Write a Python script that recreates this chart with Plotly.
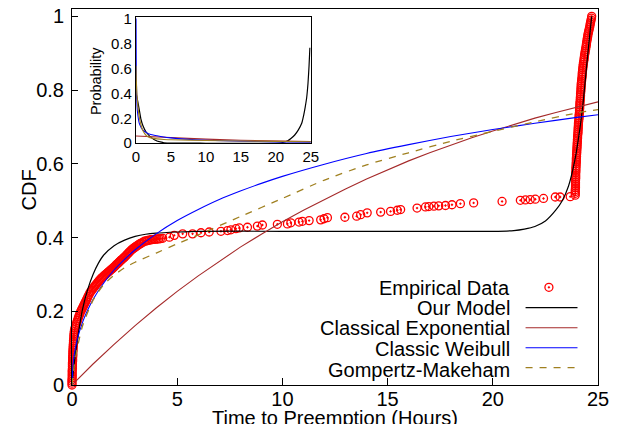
import plotly.graph_objects as go

# ---------------- data ----------------
# empirical CDF points (hours, CDF), in four stretches
emp_x_start = [0.00,0.00,0.00,0.00,0.01,0.01,0.01,0.01,0.01,0.02,0.02,0.02,0.02,0.03,0.03,0.03,0.04,0.04,0.04,0.05,0.05,0.06,0.06,0.07,0.07,0.08,0.09,0.09,0.10,0.11]
emp_y_start = [0.000,0.005,0.010,0.015,0.020,0.025,0.030,0.035,0.040,0.045,0.050,0.055,0.060,0.065,0.070,0.075,0.080,0.085,0.090,0.095,0.100,0.105,0.110,0.115,0.120,0.125,0.130,0.135,0.140,0.145]

emp_x_dense = [0.12,0.145,0.17,0.20,0.23,0.26,0.29,0.32,0.35,0.385,0.42,0.45,0.48,0.515,0.55,0.585,0.62,0.655,0.69,0.725,
               0.76,0.805,0.85,0.895,0.94,0.985,1.03,1.075,1.12,1.165,1.21,1.255,1.30,1.35,1.40,1.45,1.50,1.55,1.60,1.65,
               1.70,1.75,1.80,1.85,1.90,1.95,2.00,2.05,2.10,2.15,2.20,2.25,2.30,2.35,2.40,2.45,2.50,2.55,2.60,2.65,
               2.70,2.75,2.80,2.85,2.90,2.95,3.00,3.05,3.10,3.15,3.20,3.25,3.30,3.375,3.45,3.525,3.60,3.675,3.75,3.825,
               3.90,3.975,4.05,4.125,4.20]
emp_y_dense = [0.150,0.155,0.160,0.165,0.170,0.175,0.180,0.185,0.190,0.195,0.200,0.2035,0.207,0.211,0.215,0.219,0.223,0.227,0.231,0.2355,
               0.240,0.245,0.250,0.2535,0.257,0.2605,0.264,0.2675,0.271,0.274,0.277,0.2805,0.284,0.287,0.290,0.2925,0.295,0.2975,0.300,0.3025,
               0.305,0.3075,0.310,0.3125,0.315,0.3175,0.320,0.323,0.326,0.3285,0.331,0.334,0.337,0.3395,0.342,0.3445,0.347,0.350,0.353,0.356,
               0.359,0.362,0.365,0.3675,0.370,0.372,0.374,0.376,0.378,0.380,0.382,0.3835,0.385,0.3875,0.390,0.391,0.392,0.393,0.394,0.3945,
               0.395,0.3955,0.396,0.3965,0.397]

emp_x_mid = [4.31,4.63,4.86,5.26,5.73,6.13,6.52,7.08,7.39,7.55,7.79,7.95,8.34,8.81,9.05,9.76,10.24,10.40,10.79,10.95,11.27,11.82,11.98,12.14,
             12.97,13.53,13.72,14.03,14.67,15.14,15.46,15.62,16.40,16.80,16.96,17.20,17.43,17.75,18.06,18.46,19.09,20.44,21.31,21.55,21.78,22.02,
             22.41,22.97,23.20,23.68]
emp_y_mid = [0.398,0.401,0.406,0.410,0.410,0.413,0.415,0.417,0.419,0.421,0.424,0.426,0.428,0.431,0.434,0.436,0.437,0.440,0.442,0.444,0.446,0.448,0.451,0.454,
             0.455,0.458,0.462,0.467,0.469,0.471,0.474,0.476,0.480,0.483,0.484,0.485,0.486,0.487,0.489,0.492,0.494,0.498,0.501,0.502,0.503,0.504,
             0.506,0.510,0.510,0.511]

emp_x_jump = [23.92,23.92,23.92,23.92,23.93,23.93,23.93,23.93,
              23.93,23.94,23.94,23.94,23.94,23.95,23.95,23.95,
              23.96,23.96,23.97,23.97,23.97,23.98,23.98,23.99,
              23.99,24.00,24.00,24.01,24.01,24.02,24.02,24.03,24.03,24.04,
              24.05,24.05,24.06,24.06,24.07,24.07,24.08,24.09,
              24.10,24.10,24.11,24.12,24.12,24.13,24.13,24.14,24.14,24.15,
              24.16,24.16,24.17,24.17,24.18,24.19,24.19,24.20,24.20,24.21,
              24.22,24.23,24.24,24.25,24.25,24.26,24.27,24.28,
              24.29,24.30,24.31,24.33,24.34,24.35,24.36,24.38,
              24.39,24.41,24.42,24.44,24.45,24.46,24.48,24.49,24.51,24.52,
              24.54,24.56,24.58,24.60,24.62,24.63,24.65,24.67,24.69,24.70]
emp_y_jump = [0.515,0.52,0.525,0.53,0.535,0.54,0.545,0.55,
              0.555,0.56,0.565,0.57,0.575,0.58,0.585,0.59,
              0.595,0.60,0.605,0.61,0.615,0.62,0.625,0.63,
              0.635,0.64,0.645,0.65,0.655,0.66,0.665,0.67,0.675,0.68,
              0.685,0.69,0.695,0.70,0.705,0.71,0.715,0.72,
              0.725,0.73,0.735,0.74,0.745,0.75,0.755,0.76,0.765,0.77,
              0.775,0.78,0.785,0.79,0.795,0.80,0.805,0.81,0.815,0.82,
              0.825,0.83,0.835,0.84,0.845,0.85,0.855,0.86,
              0.865,0.87,0.875,0.88,0.885,0.89,0.895,0.90,
              0.905,0.91,0.915,0.92,0.925,0.93,0.935,0.94,0.945,0.95,
              0.955,0.96,0.965,0.97,0.975,0.98,0.985,0.99,0.995,1.0]

emp_x = emp_x_start + emp_x_dense + emp_x_mid + emp_x_jump
emp_y = emp_y_start + emp_y_dense + emp_y_mid + emp_y_jump

# fitted CDF curves
model_x = [0, 0.05, 0.1, 0.25, 0.5, 0.75, 1.0, 1.25, 1.5, 2.0, 2.5, 3.0, 3.5, 4.0, 5.0, 6.0, 10, 15, 20, 21, 21.5, 22, 22.5, 23, 23.3, 23.6, 23.9, 24.15, 24.3, 24.45, 24.58, 24.70]
model_y = [0, 0.03, 0.055, 0.12, 0.205, 0.26, 0.30, 0.33, 0.352, 0.378, 0.393, 0.403, 0.409, 0.412, 0.415, 0.417, 0.417, 0.417, 0.417, 0.419, 0.423, 0.430, 0.445, 0.475, 0.50, 0.54, 0.61, 0.70, 0.77, 0.86, 0.935, 1.0]

exp_x = list(range(0, 26))
exp_y = [0, 0.057, 0.110, 0.161, 0.209, 0.254, 0.296, 0.336, 0.374, 0.409, 0.443, 0.474, 0.504, 0.532, 0.559,
         0.584, 0.608, 0.630, 0.651, 0.671, 0.689, 0.707, 0.724, 0.739, 0.754, 0.768]

weib_x = [0, 0.05, 0.1, 0.25, 0.5, 0.75, 1, 1.5, 2, 2.5, 3, 4, 5, 6, 7, 8, 9, 10, 12, 14, 16, 18, 20, 22, 24, 25]
weib_y = [0, 0.057, 0.080, 0.124, 0.170, 0.204, 0.232, 0.276, 0.312, 0.341, 0.367, 0.410, 0.446, 0.476, 0.503, 0.526, 0.547, 0.566, 0.599, 0.628, 0.652, 0.674, 0.693, 0.710, 0.726, 0.733]

gm_x = [0, 0.1, 0.25, 0.5, 1, 1.5, 2, 2.5, 3, 4, 5, 6, 8, 10, 12, 14, 16, 18, 20, 22, 24, 25]
gm_y = [0, 0.05, 0.10, 0.16, 0.23, 0.272, 0.298, 0.318, 0.333, 0.358, 0.383, 0.407, 0.457, 0.506, 0.556, 0.597, 0.630, 0.661, 0.688, 0.714, 0.738, 0.747]

# inset: probability density curves
pm_x = [0, 0.1, 0.24, 0.5, 0.72, 1.0, 1.45, 2.2, 3.0, 3.4, 4.0, 10, 20, 21, 21.7, 22.2, 22.7, 23.2, 23.7, 24.0, 24.2, 24.4, 24.6, 24.75, 24.87]
pm_y = [0.40, 0.38, 0.34, 0.26, 0.19, 0.14, 0.09, 0.045, 0.018, 0.012, 0.004, 0.0, 0.0, 0.006, 0.02, 0.04, 0.066, 0.105, 0.16, 0.23, 0.29, 0.36, 0.48, 0.62, 0.765]

pe_x = [0, 5, 10, 15, 20, 25]
pe_y = [0.0585, 0.0437, 0.0326, 0.0243, 0.0182, 0.0136]

pw_x = [0.01, 0.03, 0.05, 0.1, 0.2, 0.5, 1, 1.5, 2, 3, 4, 5, 7, 10, 15, 20, 25]
pw_y = [1.0, 0.70, 0.56, 0.384, 0.262, 0.155, 0.105, 0.085, 0.072, 0.060, 0.050, 0.043, 0.033, 0.024, 0.016, 0.011, 0.008]

pg_x = [0, 0.05, 0.15, 0.3, 0.5, 0.75, 1, 1.5, 2, 3, 4, 5, 10, 15, 20, 25]
pg_y = [0.62, 0.50, 0.38, 0.28, 0.20, 0.14, 0.10, 0.06, 0.045, 0.035, 0.030, 0.028, 0.022, 0.018, 0.015, 0.012]

x_ticks = [0, 5, 10, 15, 20, 25]
y_ticks = [0, 0.2, 0.4, 0.6, 0.8, 1]
y_ticktext = ["0", "0.2", "0.4", "0.6", "0.8", "1"]

legend_names = ["Empirical Data", "Our Model", "Classical Exponential", "Classic Weibull", "Gompertz-Makeham"]

# ---------------- styling ----------------
FONT = "Liberation Sans, Arial, sans-serif"
C_EMP = "#ff0000"
C_MODEL = "#000000"
C_EXP = "#a52a2a"
C_WEIB = "#0000ff"
C_GM = "#a08020"
GM_DASH = "7px,7px"
EMP_MARKER = dict(symbol="circle-open-dot", size=8, color=C_EMP, line=dict(width=1.3, color=C_EMP))

fig = go.Figure()

fig.add_trace(go.Scatter(x=emp_x, y=emp_y, mode="markers", cliponaxis=False, marker=EMP_MARKER, showlegend=False))
fig.add_trace(go.Scatter(x=model_x, y=model_y, mode="lines", line=dict(color=C_MODEL, width=1.2, shape="spline", smoothing=0.6), showlegend=False))
fig.add_trace(go.Scatter(x=exp_x, y=exp_y, mode="lines", line=dict(color=C_EXP, width=1.1), showlegend=False))
fig.add_trace(go.Scatter(x=weib_x, y=weib_y, mode="lines", line=dict(color=C_WEIB, width=1.1, shape="spline", smoothing=0.6), showlegend=False))
fig.add_trace(go.Scatter(x=gm_x, y=gm_y, mode="lines", line=dict(color=C_GM, width=1.3, dash=GM_DASH, shape="spline", smoothing=0.6), showlegend=False))

# inset traces
fig.add_trace(go.Scatter(x=pm_x, y=pm_y, xaxis="x2", yaxis="y2", mode="lines", line=dict(color=C_MODEL, width=1.2, shape="spline", smoothing=0.5), showlegend=False))
fig.add_trace(go.Scatter(x=pe_x, y=pe_y, xaxis="x2", yaxis="y2", mode="lines", line=dict(color=C_EXP, width=1.1), showlegend=False))
fig.add_trace(go.Scatter(x=pw_x, y=pw_y, xaxis="x2", yaxis="y2", mode="lines", line=dict(color=C_WEIB, width=1.1, shape="spline", smoothing=0.5), showlegend=False))
fig.add_trace(go.Scatter(x=pg_x, y=pg_y, xaxis="x2", yaxis="y2", mode="lines", line=dict(color=C_GM, width=1.2, shape="spline", smoothing=0.5), showlegend=False))

# gnuplot-style key samples, drawn on an invisible overlay axis spanning the plot area (0..1)
key_x0, key_x1, key_xm = 0.8623, 0.961, 0.9067
key_rows = [0.2598, 0.2056, 0.1524, 0.0992, 0.046]
fig.add_trace(go.Scatter(x=[key_xm], y=[key_rows[0]], xaxis="x3", yaxis="y3", mode="markers", cliponaxis=False,
                         marker=EMP_MARKER, showlegend=False, hoverinfo="skip"))
key_styles = [dict(color=C_MODEL, width=1.2), dict(color=C_EXP, width=1.1), dict(color=C_WEIB, width=1.1),
              dict(color=C_GM, width=1.3, dash=GM_DASH)]
for st, yy in zip(key_styles, key_rows[1:]):
    fig.add_trace(go.Scatter(x=[key_x0, key_x1], y=[yy, yy], xaxis="x3", yaxis="y3", mode="lines", cliponaxis=False,
                             line=st, showlegend=False, hoverinfo="skip"))

axis_common = dict(showgrid=False, zeroline=False, showline=True, linecolor="black", linewidth=1, mirror=True,
                   automargin=False)

fig.update_layout(
    width=621, height=424,
    margin=dict(l=72, r=22.5, t=9, b=39, autoexpand=False),
    paper_bgcolor="white", plot_bgcolor="white",
    font=dict(family=FONT, size=20, color="black"),
    showlegend=False,
    xaxis=dict(range=[0, 25], tickvals=x_ticks, ticks="inside", ticklen=7, tickcolor="black",
               tickfont=dict(size=20), ticklabelstandoff=-4, **axis_common),
    yaxis=dict(range=[0, 1.02], tickvals=y_ticks, ticktext=y_ticktext, ticks="inside", ticklen=6, tickcolor="black",
               tickfont=dict(size=20), ticklabelstandoff=3, **axis_common),
    xaxis2=dict(domain=[0.1216, 0.454], anchor="y2", range=[0, 25], tickvals=x_ticks, ticks="",
                tickfont=dict(size=15), **axis_common),
    yaxis2=dict(domain=[0.643, 0.98], anchor="x2", range=[0, 1.015], tickvals=y_ticks, ticktext=y_ticktext, ticks="",
                tickfont=dict(size=15), **axis_common),
    xaxis3=dict(overlaying="x", range=[0, 1], visible=False, automargin=False),
    yaxis3=dict(overlaying="y", range=[0, 1], visible=False, automargin=False),
)

ann = []
ann.append(dict(text="Time to Preemption (Hours)", x=0.5005, y=-0.0532, xref="paper", yref="paper",
                xanchor="center", yanchor="top", showarrow=False, font=dict(size=20)))
ann.append(dict(text="CDF", x=-0.08, y=0.52, xref="paper", yref="paper", textangle=-90,
                xanchor="center", yanchor="middle", showarrow=False, font=dict(size=20)))
ann.append(dict(text="Probability", x=0.0462, y=0.809, xref="paper", yref="paper", textangle=-90,
                xanchor="center", yanchor="middle", showarrow=False, font=dict(size=14.5)))

row_y = [0.2593, 0.2048, 0.1503, 0.0957, 0.0412]
for name, yy in zip(legend_names, row_y):
    ann.append(dict(text=name, x=0.8357, y=yy, xref="paper", yref="paper", xanchor="right", yanchor="middle",
                    showarrow=False, font=dict(size=20)))
fig.update_layout(annotations=ann)

fig.write_html("out.html", config={"displayModeBar": False},
               post_script="document.body.style.margin='0';document.body.style.overflow='hidden';")
